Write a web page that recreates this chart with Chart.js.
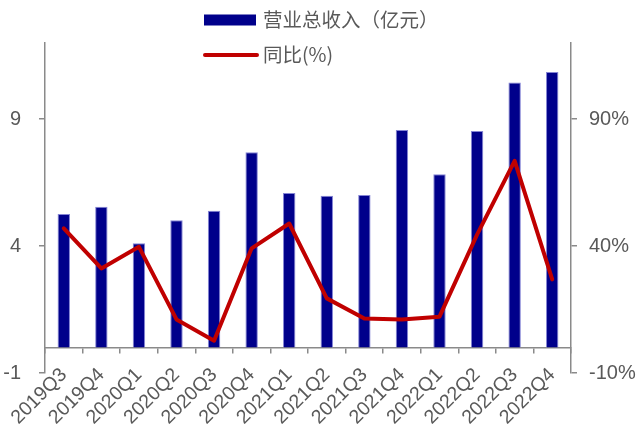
<!DOCTYPE html>
<html>
<head>
<meta charset="utf-8">
<script src="https://cdn.jsdelivr.net/npm/chart.js@4.4.1/dist/chart.umd.min.js"></script>
<style>
  html, body { margin: 0; padding: 0; background: #ffffff; }
  canvas { display: block; }
</style>
</head>
<body>
<canvas id="chart" width="643" height="430"></canvas>
<script>
// Quarterly revenue (100M CNY) and year-on-year growth (%)
const quarters = ['2019Q3', '2019Q4', '2020Q1', '2020Q2', '2020Q3', '2020Q4', '2021Q1',
                  '2021Q2', '2021Q3', '2021Q4', '2022Q1', '2022Q2', '2022Q3', '2022Q4'];
const revenue = [5.26, 5.55, 4.11, 5.02, 5.39, 7.70, 6.09, 5.98, 6.01, 8.57, 6.83, 8.53, 10.44, 10.86];
const yoyGrowth = [47.0, 31.2, 39.7, 11.1, 2.7, 39.1, 48.9, 19.4, 11.5, 11.1, 12.2, 44.5, 73.6, 26.9];
const leftTicks = [-1, 4, 9];
const rightTicks = [-10, 40, 90];
const seriesNames = ['营业总收入（亿元）', '同比(%)'];

const AXIS_GREY = '#8a8a8a';
const TEXT_GREY = '#595959';
const BAR_BLUE = '#00008B';
const LINE_RED = '#C00000';

// Two-row legend centred above the plot
const stackedLegend = {
  id: 'stackedLegend',
  afterDraw(chart) {
    const { ctx, width } = chart;
    const sets = chart.data.datasets;
    const boxW = 52, gap = 7;
    const rowY = [20, 55];
    ctx.save();
    ctx.font = '19.5px "Noto Sans CJK SC", "Noto Sans", sans-serif';
    const rowW = boxW + gap + ctx.measureText(sets[0].label).width;
    const x0 = Math.round((width - rowW) / 2);
    sets.forEach((ds, i) => {
      const y = rowY[i];
      if (ds.type === 'line') {
        ctx.strokeStyle = ds.borderColor;
        ctx.lineWidth = 4;
        ctx.lineCap = 'round';
        ctx.beginPath();
        ctx.moveTo(x0 + 1, y);
        ctx.lineTo(x0 + boxW + 1, y);
        ctx.stroke();
      } else {
        ctx.fillStyle = ds.backgroundColor;
        ctx.fillRect(x0, y - 5.5, boxW, 11);
      }
      ctx.fillStyle = TEXT_GREY;
      ctx.textAlign = 'left';
      ctx.textBaseline = 'middle';
      ctx.fillText(ds.label, x0 + boxW + gap, y);
    });
    ctx.restore();
  }
};

const tickFont = { family: '"Liberation Sans", Arial, sans-serif', size: 20 };

new Chart(document.getElementById('chart'), {
  type: 'bar',
  data: {
    labels: quarters,
    datasets: [
      {
        type: 'bar',
        label: seriesNames[0],
        data: revenue,
        yAxisID: 'y',
        backgroundColor: BAR_BLUE,
        borderColor: 'rgba(110,110,205,0.85)',
        borderWidth: 1,
        categoryPercentage: 1,
        barPercentage: 0.33,
        order: 1
      },
      {
        type: 'line',
        label: seriesNames[1],
        data: yoyGrowth,
        yAxisID: 'y1',
        borderColor: LINE_RED,
        backgroundColor: LINE_RED,
        borderWidth: 4,
        pointRadius: 0,
        tension: 0,
        borderCapStyle: 'round',
        borderJoinStyle: 'round',
        order: 0
      }
    ]
  },
  options: {
    responsive: false,
    animation: false,
    layout: { padding: { top: 43, bottom: 57, left: 0, right: 0 } },
    plugins: { legend: { display: false }, tooltip: { enabled: false } },
    scales: {
      x: {
        position: { y: 0 },
        grid: { drawOnChartArea: false, drawTicks: true, tickLength: 5, color: AXIS_GREY, lineWidth: 1.5, offset: true },
        border: { color: AXIS_GREY, width: 1.5 },
        ticks: {
          autoSkip: false, minRotation: 45, maxRotation: 45,
          color: TEXT_GREY, padding: 11,
          font: { family: '"Liberation Sans", Arial, sans-serif', size: 19.5 }
        },
        afterFit(s) { s.height = 0; }
      },
      y: {
        position: 'left',
        min: -1,
        max: 12,
        afterBuildTicks(s) { s.ticks = leftTicks.map(v => ({ value: v })); },
        grid: { drawOnChartArea: false, tickLength: 6, color: AXIS_GREY, lineWidth: 1.5 },
        border: { color: AXIS_GREY, width: 1.5 },
        ticks: { color: TEXT_GREY, font: tickFont, padding: 18 },
        afterFit(s) { s.width = 45; }
      },
      y1: {
        position: 'right',
        min: -10,
        max: 120,
        afterBuildTicks(s) { s.ticks = rightTicks.map(v => ({ value: v })); },
        grid: { drawOnChartArea: false, tickLength: 6, color: AXIS_GREY, lineWidth: 1.5 },
        border: { color: AXIS_GREY, width: 1.5 },
        ticks: { color: TEXT_GREY, font: tickFont, padding: 12, callback: v => v + '%' },
        afterFit(s) { s.width = 72; }
      }
    }
  },
  plugins: [stackedLegend]
});
</script>
</body>
</html>
